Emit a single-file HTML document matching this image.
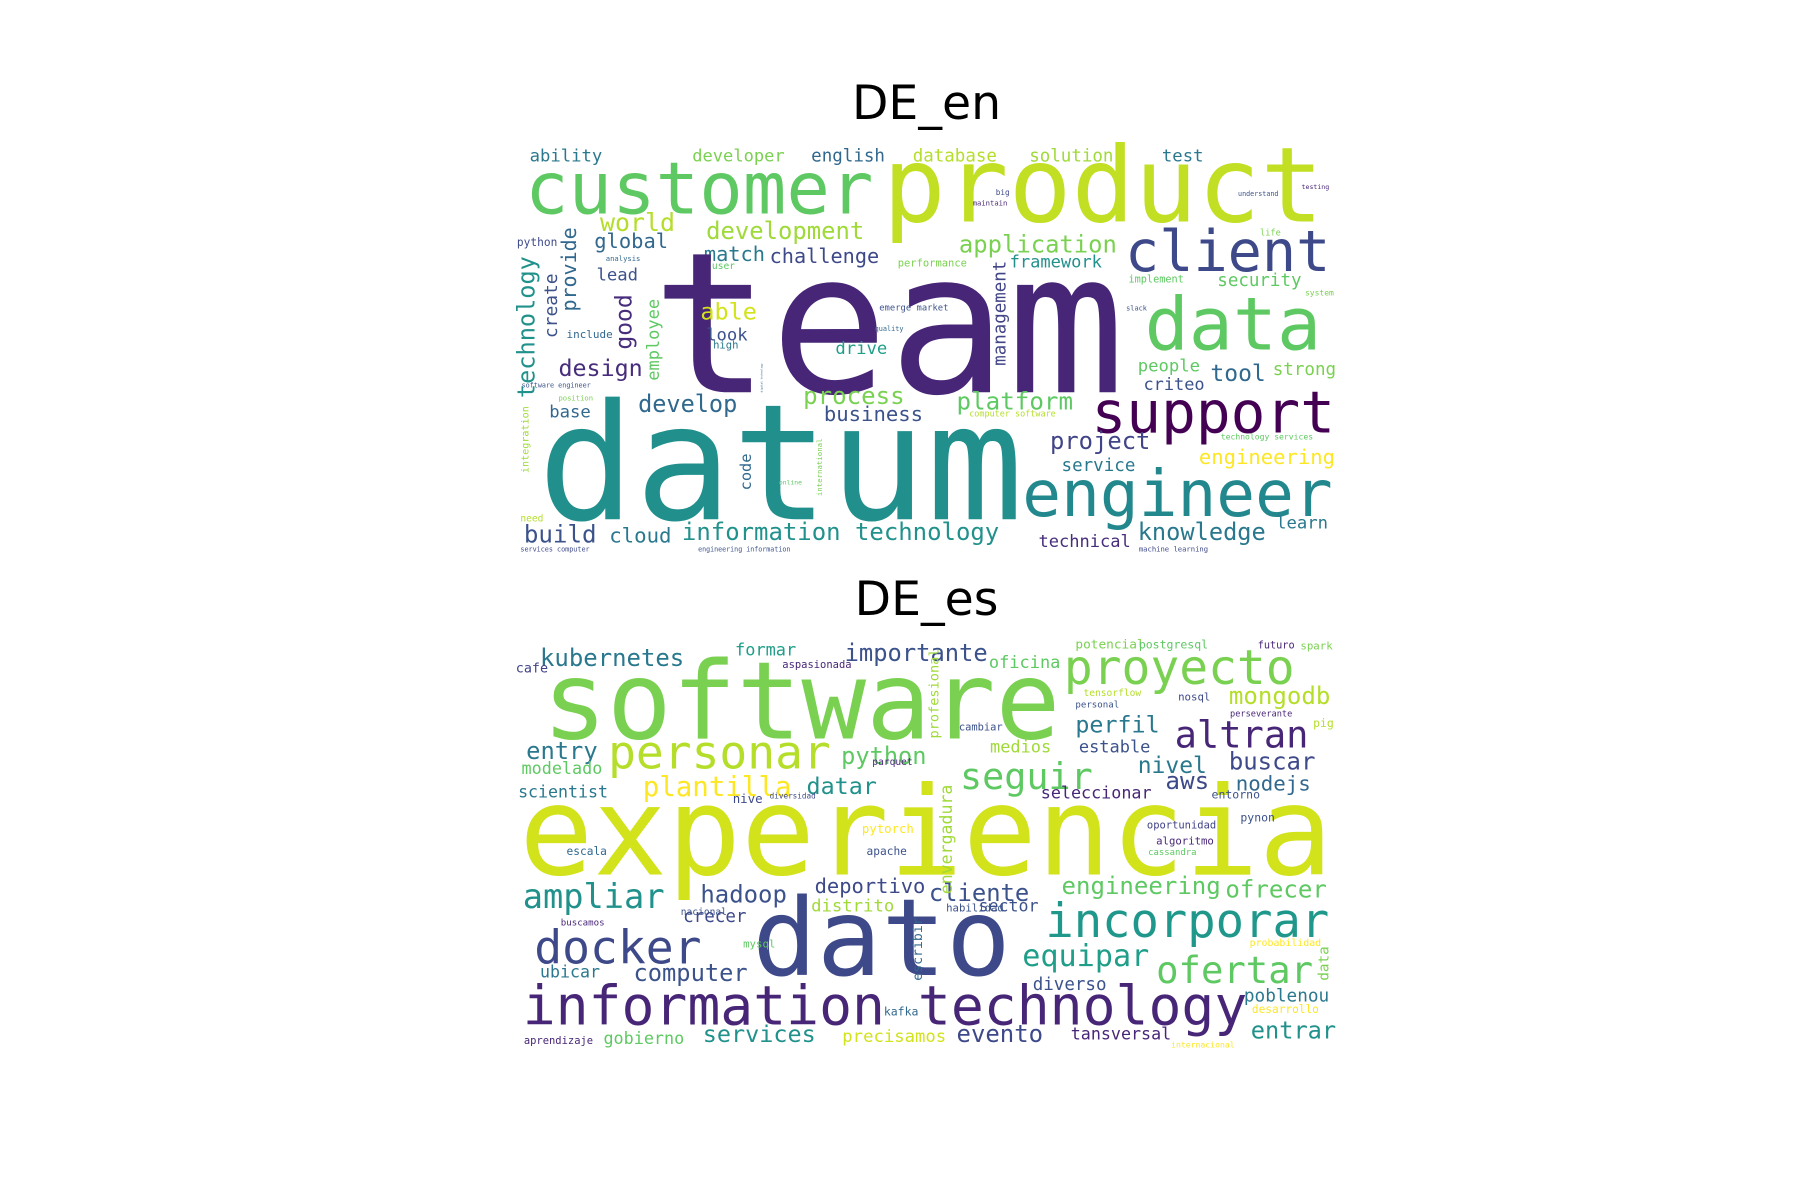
<!DOCTYPE html>
<html><head><meta charset="utf-8"><title>Word clouds DE_en / DE_es</title>
<style>html,body{margin:0;padding:0;background:#fff;}svg{display:block;}</style></head>
<body>
<svg id="fig" width="1800" height="1200" viewBox="0 0 1560 1040" xmlns="http://www.w3.org/2000/svg">
<rect width="1560" height="1040" fill="#ffffff"/>
<text x="803" y="103" text-anchor="middle" font-family="DejaVu Sans, Liberation Sans, sans-serif" font-size="41" fill="#000">DE_en</text>
<text x="803" y="533" text-anchor="middle" font-family="DejaVu Sans, Liberation Sans, sans-serif" font-size="41" fill="#000">DE_es</text>
<g id="cloud1"></g>
<g id="cloud2"></g>
</svg>
<script>
// word, left x, baseline y (or bottom y for vertical), extent, color, vertical
const enWords=["ability","developer","english","database","solution","test","customer","product","world","development","global","client","application","match","challenge","framework","lead","security","team","data","able","look","drive","design","people","tool","strong","criteo","support","develop","process","platform","business","base","project","datum","engineering","service","engineer","build","cloud","information technology","technical","knowledge","learn","technology","create","provide","good","employee","management","performance","implement","emerge market","quality","understand","python","analysis","include","software engineer","position","integration","computer software","technology services","machine learning","engineering information","services computer","big","maintain","testing","slack","system","digital technology","international","code","need","online","life","high","user"];
const enX=[459,600,703,791,892,1007,455,765,520,612,515,975,831,610,667,875,517,1055,565,992,607,612,724,484,986,1049,1103,991,946,553,696,829,714,476,910,466,1039,920,886,454,528,591,900,986,1106,456,477,493,540,566,866,778,978,762,758,1073,448,525,491,452,484,455,840,1058,987,605,451,863,843,1128,976,1131,660,710,646,451,675,1092,618,617];
const enY=[140,140,140,140,140,140,185,192,200,207,215,235,219,226,228,232,243,248,340,303,277,295,307,326,322,330,325,338,375,357,350,355,365,362,389,450,402,408,447,470,470,468,474,468,458,345,293,270,303,330,317,231,245,269,287,170,213,226,293,336,347,410,361,381,478,478,478,169,178,164,269,256,340,430,425,452,420,204,302,233];
const enW=[63,80,64,73,73,36,302,382,65,137,64,178,137,53,95,80,36,73,410,153,49,36,45,73,54,48,55,53,211,86,88,101,86,36,87,421,118,64,269,63,54,275,80,111,45,123,56,73,48,71,91,60,48,60,25,35,35,30,40,60,30,58,75,80,60,80,60,12,30,24,18,25,25,50,32,20,20,18,22,20];
const enC=["#2a788e","#7ad151","#31688e","#b5de2b","#a0da39","#2a788e","#5ec962","#c2df23","#b5de2b","#a0da39","#31688e","#3e4989","#7ad151","#2a788e","#3e4989","#21918c","#3b528b","#5ec962","#482677","#5ec962","#d2e21b","#3b528b","#1f9e89","#472d7b","#5ec962","#31688e","#7ad151","#3b528b","#440154","#31688e","#7ad151","#5ec962","#3b528b","#31688e","#414487","#21908d","#fde725","#2a788e","#23888e","#3b528b","#2a788e","#21918c","#472d7b","#2a788e","#2a788e","#21918c","#3b528b","#31688e","#472d7b","#5ec962","#414487","#7ad151","#5ec962","#3b528b","#31688e","#3b528b","#3e4989","#31688e","#31688e","#3b528b","#7ad151","#a0da39","#b5de2b","#5ec962","#3e4989","#3b528b","#3e4989","#3e4989","#482677","#482677","#3b528b","#7ad151","#31688e","#7ad151","#31688e","#b5de2b","#5ec962","#7ad151","#2a788e","#5ec962"];
const enV=[0,0,0,0,0,0,0,0,0,0,0,0,0,0,0,0,0,0,0,0,0,0,0,0,0,0,0,0,0,0,0,0,0,0,0,0,0,0,0,0,0,0,0,0,0,1,1,1,1,1,1,0,0,0,0,0,0,0,0,0,0,1,0,0,0,0,0,0,0,0,0,0,1,1,1,0,0,0,0,0];

const esWords=["kubernetes","formar","importante","oficina","proyecto","software","mongodb","perfil","altran","entry","personar","python","medios","estable","nivel","buscar","seguir","modelado","plantilla","datar","aws","nodejs","scientist","seleccionar","experiencia","ampliar","hadoop","deportivo","cliente","engineering","ofrecer","distrito","sector","crecer","dato","incorporar","docker","equipar","ofertar","computer","ubicar","diverso","information technology","poblenou","entrar","gobierno","services","precisamos","evento","tansversal","envergadura","data","potencial","postgresql","futuro","spark","aspasionada","cafe","tensorflow","personal","nosql","perseverante","pig","cambiar","parquet","diversidad","nive","entorno","oportunidad","algoritmo","pytorch","apache","cassandra","escala","habilidad","buscamos","nacional","mysql","probabilidad","aprendizaje","desarrollo","internacional","profesional","pynon","kafka","escribir"];
const esX=[468,637,732,857,922,470,1065,932,1018,456,527,729,858,935,986,1065,832,452,557,699,1010,1071,449,902,450,453,607,706,805,920,1062,703,848,592,652,906,463,886,1002,549,468,895,453,1078,1084,523,609,730,829,928,820,1147,932,987,1090,1127,678,447,939,932,1021,1066,1138,831,756,667,635,1050,994,1002,747,751,995,491,820,486,590,644,1083,454,1085,1015,809,1075,766,795];
const esY=[577,568,573,579,593,640,610,635,648,658,666,662,652,652,670,667,684,671,690,688,684,685,691,692,758,787,782,774,781,775,778,790,790,799,845,812,835,837,852,850,847,858,888,868,900,905,903,903,903,901,775,850,562,562,562,563,579,583,603,613,607,621,630,633,663,692,696,692,718,732,722,741,741,741,790,802,793,821,820,905,878,908,640,712,880,850];
const esW=[125,53,124,62,200,449,88,73,116,62,193,74,53,62,60,75,115,70,129,61,38,65,78,96,705,123,75,96,87,138,88,72,52,55,224,246,145,110,136,99,52,64,628,74,74,70,98,90,75,87,95,30,60,60,32,28,60,28,50,38,28,54,18,38,35,40,26,42,60,50,45,35,42,35,50,38,40,28,62,60,58,55,78,30,30,55];
const esC=["#2a788e","#1f9e89","#3b528b","#5ec962","#7ad151","#7ad151","#b5de2b","#2a788e","#482677","#2a788e","#b5de2b","#5ec962","#a0da39","#3b528b","#2a788e","#3e4989","#5ec962","#5ec962","#fde725","#21918c","#3e4989","#31688e","#2a788e","#482677","#d2e21b","#21918c","#3b528b","#3e4989","#3b528b","#5ec962","#5ec962","#a0da39","#3b528b","#3e4989","#3e4989","#1f988b","#3e4989","#1f9e89","#5ec962","#3b528b","#2a788e","#3b528b","#482677","#2a788e","#21918c","#5ec962","#21918c","#d2e21b","#3e4989","#482677","#a0da39","#7ad151","#7ad151","#5ec962","#482677","#7ad151","#482677","#414487","#b5de2b","#3b528b","#3e4989","#482677","#b5de2b","#3b528b","#482677","#3e4989","#3e4989","#3b528b","#414487","#482677","#fde725","#3b528b","#5ec962","#31688e","#3b528b","#482677","#3b528b","#5ec962","#fde725","#482677","#fde725","#fde725","#a0da39","#3b528b","#31688e","#31688e"];
const esV=[0,0,0,0,0,0,0,0,0,0,0,0,0,0,0,0,0,0,0,0,0,0,0,0,0,0,0,0,0,0,0,0,0,0,0,0,0,0,0,0,0,0,0,0,0,0,0,0,0,0,1,1,0,0,0,0,0,0,0,0,0,0,0,0,0,0,0,0,0,0,0,0,0,0,0,0,0,0,0,0,0,0,1,0,0,1];

const NS="http://www.w3.org/2000/svg";
function slug(s){return s.toLowerCase().replace(/[^a-z0-9]+/g,'-');}
function drawCloud(gid,words,xs,ys,ws,cs,vs,prefix){
  const g=document.getElementById(gid);
  for(let i=0;i<words.length;i++){
    const w=words[i],n=w.length,ext=ws[i];
    const fs=Math.min(ext/(0.602*n),200);
    const t=document.createElementNS(NS,'text');
    t.textContent=w;
    t.setAttribute('font-family','DejaVu Sans Mono, Liberation Mono, monospace');
    t.setAttribute('font-size',fs.toFixed(2));
    t.setAttribute('fill',cs[i]);
    t.setAttribute('textLength',ext);
    t.setAttribute('lengthAdjust','spacingAndGlyphs');
    if(vs[i]){
      const bx=xs[i]+fs*0.36, by=ys[i];
      t.setAttribute('x',bx);t.setAttribute('y',by);
      t.setAttribute('transform','rotate(-90 '+bx+' '+by+')');
    } else {
      t.setAttribute('x',xs[i]);t.setAttribute('y',ys[i]);
    }
    
    
    g.appendChild(t);
  }
}
drawCloud('cloud1',enWords,enX,enY,enW,enC,enV,'en');
drawCloud('cloud2',esWords,esX,esY,esW,esC,esV,'es');
</script>
</body></html>
